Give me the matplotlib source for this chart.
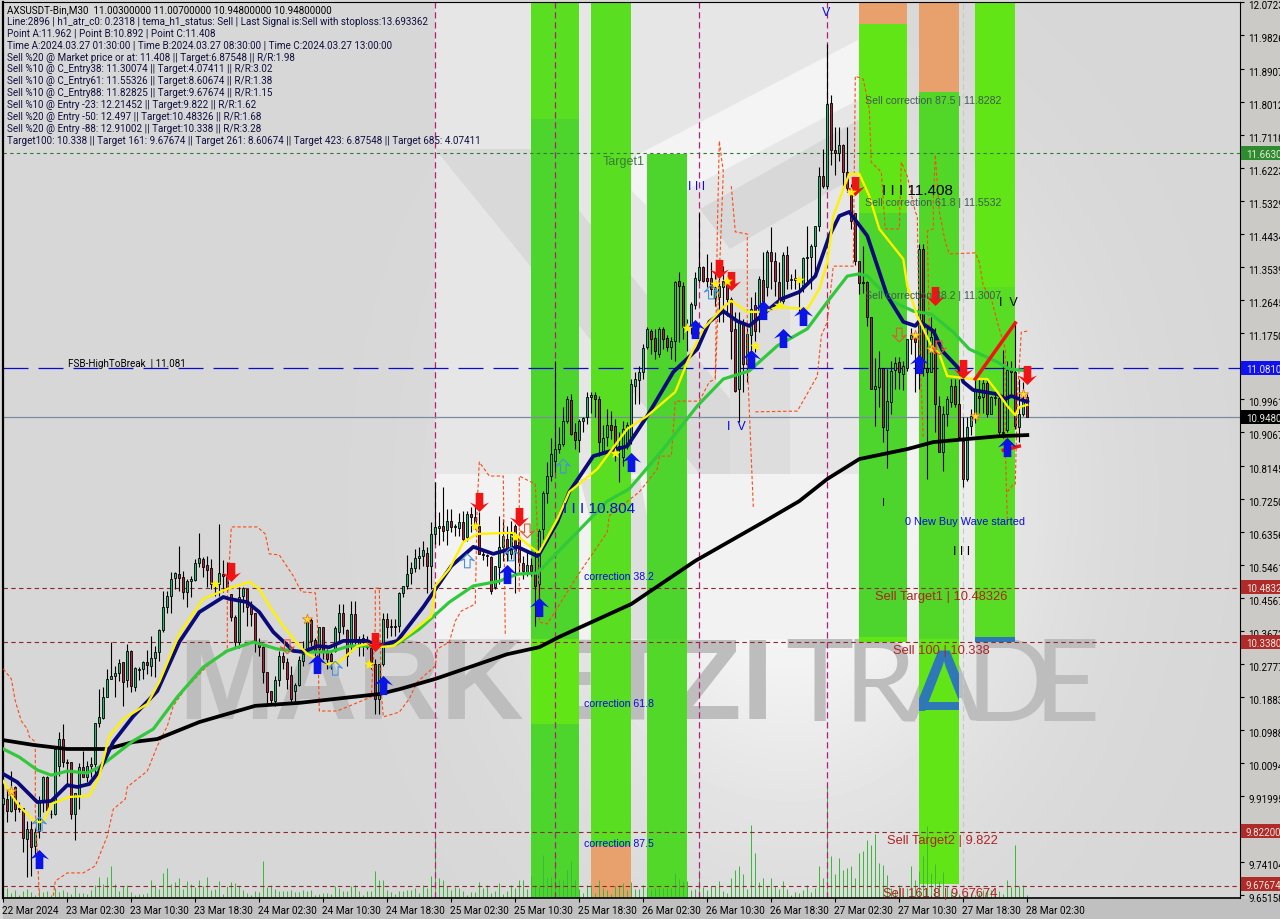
import numpy as np
import matplotlib
matplotlib.use("Agg")
import matplotlib.pyplot as plt
from matplotlib.patches import Rectangle, Polygon
from matplotlib.path import Path
from matplotlib.transforms import ScaledTranslation

# AXSUSDT M30 candles (one value per bar)
opens = [9.899,9.912,9.880,9.944,9.889,9.889,9.805,9.832,9.784,9.826,9.903,9.971,9.871,9.871,10.003,10.075,10.013,10.012,9.871,9.923,
         9.998,9.971,10.002,10.007,10.118,10.131,10.190,10.238,10.245,10.254,10.285,10.236,10.313,10.217,10.263,10.265,10.283,10.274,10.294,10.310,
         10.370,10.432,10.464,10.511,10.522,10.513,10.473,10.504,10.507,10.552,10.563,10.547,10.538,10.495,10.495,10.522,10.513,10.468,10.405,10.337,
         10.462,10.482,10.432,10.416,10.337,10.325,10.257,10.206,10.179,10.236,10.299,10.283,10.248,10.206,10.221,10.287,10.314,10.398,10.343,10.319,
         10.380,10.314,10.305,10.314,10.364,10.416,10.370,10.328,10.414,10.330,10.350,10.340,10.323,10.278,10.183,10.278,10.400,10.378,10.382,10.382,
         10.472,10.489,10.525,10.538,10.567,10.570,10.580,10.545,10.632,10.648,10.652,10.641,10.667,10.651,10.648,10.664,10.622,10.685,10.676,10.653,
         10.575,10.574,10.568,10.486,10.540,10.595,10.617,10.577,10.653,10.622,10.551,10.529,10.547,10.525,10.495,10.644,10.743,10.789,10.830,10.860,
         10.875,10.938,10.994,10.906,10.887,10.936,10.947,11.001,11.008,10.997,10.857,10.893,10.926,10.923,10.870,10.839,10.870,10.893,11.033,11.047,
         11.069,11.137,11.182,11.161,11.119,11.187,11.161,11.137,11.153,11.316,11.302,11.191,11.194,11.252,11.320,11.356,11.326,11.326,11.270,11.273,
         11.300,11.309,11.268,11.187,11.024,11.200,11.092,11.170,11.252,11.236,11.320,11.300,11.394,11.370,11.313,11.263,11.387,11.320,11.326,11.322,
         11.304,11.378,11.383,11.412,11.467,11.600,11.575,11.798,11.673,11.664,11.686,11.611,11.557,11.502,11.371,11.313,11.313,11.218,11.023,11.030,
         11.080,10.913,10.990,11.076,11.096,11.064,11.082,11.160,11.173,11.078,11.403,11.082,11.071,11.164,10.978,10.852,10.956,10.988,11.033,10.983,
         10.884,10.780,10.924,10.956,11.006,11.001,11.040,10.956,11.000,11.000,10.908,10.913,11.075,11.069,10.922,10.956,11.003]
highs = [9.948,9.939,9.989,9.948,9.903,9.889,9.853,9.853,9.835,9.920,9.976,9.976,9.883,10.055,10.093,10.116,10.021,10.012,9.930,10.010,
         10.043,10.016,10.025,10.118,10.211,10.215,10.265,10.337,10.274,10.292,10.285,10.333,10.315,10.269,10.269,10.287,10.317,10.355,10.328,10.373,
         10.477,10.477,10.527,10.527,10.598,10.531,10.509,10.518,10.563,10.634,10.568,10.572,10.563,10.504,10.658,10.559,10.554,10.468,10.410,10.486,
         10.486,10.482,10.450,10.416,10.350,10.328,10.257,10.206,10.247,10.314,10.310,10.296,10.274,10.228,10.301,10.341,10.409,10.402,10.350,10.380,
         10.380,10.319,10.310,10.382,10.441,10.441,10.373,10.450,10.450,10.355,10.360,10.355,10.337,10.292,10.278,10.418,10.418,10.400,10.400,10.474,
         10.491,10.574,10.554,10.590,10.595,10.613,10.595,10.662,10.771,10.690,10.757,10.699,10.699,10.658,10.689,10.694,10.694,10.703,10.703,10.690,
         10.585,10.577,10.570,10.545,10.680,10.671,10.653,10.667,10.658,10.635,10.570,10.581,10.567,10.590,10.644,10.748,10.825,10.890,11.100,10.920,
         10.974,11.006,11.010,10.933,10.943,10.947,11.015,11.015,11.015,11.006,10.925,10.970,10.965,10.943,10.906,10.938,10.934,11.050,11.069,11.087,
         11.146,11.191,11.187,11.187,11.191,11.191,11.170,11.164,11.318,11.340,11.313,11.214,11.259,11.340,11.500,11.358,11.390,11.367,11.340,11.336,
         11.358,11.330,11.272,11.232,11.232,11.214,11.196,11.272,11.286,11.331,11.395,11.400,11.462,11.394,11.367,11.394,11.412,11.336,11.349,11.331,
         11.381,11.467,11.417,11.465,11.625,11.675,11.960,11.821,11.733,11.733,11.688,11.733,11.580,11.502,11.371,11.412,11.316,11.218,11.109,11.128,
         11.082,11.078,11.100,11.110,11.110,11.100,11.160,11.190,11.180,11.417,11.417,11.190,11.218,11.190,11.005,10.978,11.005,11.050,11.050,11.050,
         10.947,10.947,10.970,11.055,11.050,11.050,11.047,11.005,11.015,11.005,11.130,11.100,11.100,11.204,11.050,11.042,11.010]
lows = [9.871,9.851,9.876,9.853,9.876,9.768,9.700,9.703,9.763,9.808,9.876,9.871,9.861,9.869,9.976,9.998,9.948,9.858,9.800,9.885,
        9.971,9.958,9.971,9.980,10.107,10.129,10.188,10.238,10.188,10.233,10.165,10.215,10.202,10.206,10.236,10.238,10.251,10.247,10.242,10.287,
        10.364,10.417,10.418,10.482,10.477,10.455,10.432,10.459,10.504,10.540,10.513,10.486,10.482,10.464,10.464,10.473,10.477,10.396,10.323,10.323,
        10.420,10.382,10.382,10.310,10.300,10.228,10.170,10.170,10.165,10.219,10.265,10.210,10.170,10.174,10.219,10.274,10.310,10.328,10.300,10.292,
        10.292,10.265,10.265,10.310,10.337,10.360,10.274,10.310,10.332,10.300,10.300,10.320,10.265,10.143,10.143,10.274,10.350,10.355,10.355,10.364,
        10.459,10.482,10.495,10.527,10.536,10.545,10.472,10.482,10.604,10.600,10.613,10.601,10.636,10.626,10.626,10.613,10.613,10.635,10.644,10.576,
        10.560,10.545,10.468,10.483,10.495,10.558,10.558,10.563,10.472,10.527,10.510,10.518,10.518,10.382,10.418,10.617,10.716,10.775,10.800,10.850,
        10.870,10.933,10.900,10.861,10.852,10.906,10.929,10.960,10.947,10.843,10.852,10.870,10.888,10.830,10.771,10.816,10.862,10.875,10.983,10.983,
        11.051,11.132,11.119,11.105,11.110,11.132,11.128,11.105,11.100,11.150,11.160,11.128,11.173,11.241,11.315,11.313,11.300,11.280,11.250,11.205,
        11.205,11.223,11.105,11.015,10.934,11.015,11.042,11.087,11.123,11.178,11.232,11.277,11.295,11.277,11.250,11.254,11.295,11.295,11.295,11.232,
        11.286,11.313,11.295,11.331,11.453,11.568,11.566,11.630,11.605,11.643,11.575,11.557,11.458,11.360,11.281,11.285,11.195,11.023,10.924,10.974,
        10.879,10.811,10.956,11.024,11.024,11.020,11.073,11.120,11.015,11.024,11.060,10.780,11.069,10.906,10.852,10.802,10.924,10.974,10.974,10.888,
        10.757,10.775,10.900,10.933,10.960,10.960,10.947,10.956,10.980,10.897,10.890,10.906,11.005,10.915,10.879,10.952,10.948]
closes = [9.914,9.880,9.935,9.885,9.885,9.808,9.831,9.781,9.824,9.903,9.971,9.883,9.873,10.048,10.075,10.013,10.011,9.871,9.930,9.998,
          9.971,10.003,10.006,10.118,10.134,10.188,10.238,10.245,10.254,10.281,10.229,10.313,10.220,10.267,10.265,10.283,10.277,10.294,10.310,10.370,
          10.432,10.462,10.509,10.524,10.512,10.473,10.504,10.509,10.552,10.565,10.542,10.534,10.495,10.491,10.525,10.516,10.482,10.405,10.337,10.459,
          10.484,10.432,10.414,10.337,10.325,10.256,10.203,10.181,10.235,10.301,10.283,10.239,10.183,10.221,10.289,10.305,10.398,10.341,10.313,10.380,
          10.314,10.292,10.287,10.375,10.416,10.382,10.301,10.414,10.341,10.346,10.337,10.325,10.278,10.183,10.278,10.400,10.378,10.382,10.380,10.472,
          10.489,10.522,10.538,10.567,10.572,10.587,10.545,10.632,10.649,10.652,10.640,10.667,10.651,10.653,10.662,10.617,10.685,10.676,10.649,10.576,
          10.574,10.570,10.477,10.543,10.595,10.626,10.577,10.631,10.586,10.554,10.531,10.547,10.531,10.490,10.640,10.743,10.788,10.848,10.861,10.875,
          10.936,10.997,10.902,10.887,10.938,10.945,11.001,11.008,10.997,10.879,10.890,10.925,10.914,10.866,10.861,10.915,10.925,11.037,11.051,11.069,
          11.134,11.187,11.160,11.126,11.187,11.160,11.139,11.155,11.313,11.304,11.191,11.190,11.254,11.324,11.354,11.318,11.318,11.295,11.300,11.304,
          11.318,11.268,11.182,11.019,11.205,11.092,11.173,11.241,11.182,11.322,11.250,11.394,11.370,11.317,11.259,11.388,11.317,11.322,11.320,11.313,
          11.378,11.381,11.412,11.465,11.600,11.573,11.797,11.673,11.664,11.686,11.611,11.570,11.480,11.371,11.311,11.310,11.218,11.023,11.032,11.080,
          10.920,10.992,11.073,11.094,11.070,11.087,11.160,11.170,11.150,11.403,11.082,11.069,11.164,10.983,10.852,10.956,10.997,11.033,10.983,10.893,
          10.780,10.920,10.951,11.019,11.000,11.040,10.956,11.001,11.003,10.906,10.905,11.075,11.070,10.924,10.956,10.997,10.948]
volumes = [28,30,15,25,10,22,28,18,8,25,18,22,8,30,18,25,18,12,32,15,15,12,25,40,63,42,63,96,42,22,35,38,18,10,12,12,15,55,38,28,
           75,90,42,48,60,28,52,42,32,55,35,63,25,28,52,12,35,48,45,35,25,15,10,22,18,110,32,38,28,20,20,22,25,18,18,25,22,25,10,12,
           15,15,12,35,30,20,22,35,38,20,8,20,22,80,55,55,25,18,12,20,22,25,25,30,15,38,30,65,197,60,55,35,25,32,30,22,8,18,18,48,
           30,40,15,20,45,12,22,40,30,55,55,28,65,40,35,130,60,63,135,55,55,85,110,55,28,15,40,40,15,55,30,25,12,35,40,45,25,48,28,28,
           40,30,25,30,30,30,30,30,75,58,50,50,25,28,85,32,25,35,35,52,22,15,60,85,97,72,28,218,135,48,60,35,60,35,28,52,28,10,18,15,
           25,38,18,30,95,60,337,125,72,120,85,90,95,60,135,140,175,160,192,105,98,70,30,25,40,10,30,95,55,82,125,215,75,102,50,78,35,20,15,12,
           12,10,15,10,15,25,25,25,8,20,12,55,32,158,35,38,10]

# Moving averages: bar index and price at the bends
navy_bar = [0,3.5,8.5,12,16,18.5,21.5,24,27.5,32.5,38.5,44,49,55,56.5,61,64,67.5,72.5,75,78.5,81.5,85,91,93.5,98.5,105,112,117.5,122.5,128.5,133.5,134,138.5,141.5,147.5,156,161,167.5,173.5,176.5,180,183.5,186.5,190,194.5,199,203,206.5,209,211.5,216,221,225,228,229,232.5,235,239,240,242.5,248.5,250.5,252,256]
navy_px = [9.980,9.958,9.904,9.907,9.950,9.945,9.953,9.988,10.067,10.137,10.205,10.338,10.419,10.460,10.455,10.446,10.419,10.365,10.314,10.311,10.327,10.324,10.341,10.341,10.327,10.341,10.433,10.544,10.596,10.577,10.596,10.571,10.577,10.663,10.745,10.842,10.869,10.951,11.070,11.132,11.206,11.235,11.208,11.195,11.227,11.268,11.287,11.330,11.439,11.493,11.504,11.439,11.276,11.206,11.195,11.208,11.181,11.124,11.078,11.043,11.021,11.010,10.997,11.005,10.989]
yellow_bar = [0,1.5,4,8,10,12,16.5,21.5,24,26.5,30,36,39,44,50,56,61.5,64,66.5,70,73.5,76,81,84,88.5,91,93,97.5,101.5,107,108,111.5,115,118.5,127.5,133.5,134,138.5,141.5,148.5,156,161,168,171,175,180,182,186,190,193.5,201,204,206,207.5,210,211.5,214,216.5,219,225,226,228.5,232,234,236,242.5,246,248.5,251,253,254,256]
yellow_px = [9.961,9.931,9.893,9.850,9.850,9.899,9.918,9.921,9.975,10.083,10.129,10.170,10.230,10.360,10.455,10.482,10.501,10.482,10.436,10.381,10.333,10.306,10.278,10.284,10.327,10.333,10.324,10.327,10.360,10.408,10.490,10.536,10.609,10.631,10.634,10.582,10.582,10.671,10.745,10.807,10.916,10.951,11.016,11.097,11.187,11.246,11.263,11.233,11.233,11.246,11.241,11.295,11.368,11.493,11.566,11.607,11.607,11.547,11.458,11.376,11.303,11.222,11.141,11.119,11.059,11.051,11.051,11.016,10.978,10.953,10.975,10.981]
green_bar = [0,4,8.5,12,16,21,24,32.5,37.5,43.5,50,56,62.5,68.5,75,81.5,86.5,92.5,98.5,104,111.5,117.5,124,128.5,133.5,143.5,151,156.5,165,173.5,180,186.5,193.5,201,206,211,214,216,222.5,227.5,232,237.5,241.5,248.5,251.5,256]
green_px = [10.048,10.026,9.991,9.977,9.988,9.983,9.999,10.070,10.102,10.189,10.270,10.314,10.338,10.319,10.311,10.311,10.327,10.327,10.333,10.373,10.446,10.490,10.503,10.522,10.525,10.636,10.720,10.753,10.861,10.978,11.051,11.073,11.141,11.187,11.260,11.330,11.336,11.330,11.260,11.235,11.227,11.178,11.132,11.097,11.078,11.073]
black_bar = [0,7.5,16,26,32.5,38.5,49,63,74,94,99,108,126,134,139,157,173,190,199,206,214,226,232.5,249,256]
black_px = [10.072,10.059,10.048,10.048,10.067,10.075,10.121,10.165,10.173,10.197,10.210,10.238,10.305,10.324,10.352,10.441,10.558,10.663,10.720,10.780,10.834,10.861,10.880,10.896,10.899]

# Thin dashed channel pieces, (bars, prices)
channel = [
    ([0,2,3,4.5,6,6.5,8,8,9],
     [10.265,10.238,10.178,10.124,10.102,10.081,10.067,9.885,9.650]),
    ([12.5,13,16,20,23,26,27.5,30.5,31,36,38.5,41,42.5,45.5,51,56,56,57,63.5,65.5,66.5,69,72.5,74.5,78,78.5,79,83.5,89.5,92,93,93,94,94.5,95,99,101.5,103.5,108,108.5,111.5,113,114.5,118,118.5,119,121.5,125,125.5],
     [9.650,9.690,9.712,9.712,9.731,9.812,9.885,9.912,9.945,9.988,10.056,10.110,10.165,10.211,10.273,10.319,10.455,10.650,10.650,10.631,10.577,10.574,10.517,10.474,10.471,10.400,10.151,10.151,10.178,10.189,10.381,10.484,10.484,10.202,10.135,10.148,10.184,10.230,10.273,10.319,10.338,10.395,10.422,10.441,10.718,10.826,10.788,10.788,10.354]),
    ([129,129,133,133.5,134,136,143.5,151,151.5,159,163.5,164,167,168,174,176.5,178,178.5,179,180,178],
     [10.474,10.788,10.766,10.644,10.392,10.387,10.517,10.636,10.680,10.745,10.807,10.842,10.842,10.991,10.991,11.043,11.051,11.450,11.696,11.612,11.051]),
    ([182,183,186,186,187.5],
     [11.574,11.450,11.444,11.097,10.704]),
    ([188,198.5,203.5,204.5,206,207.5,212.5,213,215,216.5,217,219.5,220.5,224,224.5,226,228,228.5,229,230],
     [10.962,10.964,11.059,11.168,11.206,11.357,11.357,11.872,11.864,11.783,11.639,11.612,11.458,11.458,11.639,11.601,11.504,11.493,11.160,10.888]),
    ([233,232.5,232.5,231,231.5],
     [11.656,11.539,11.458,11.452,11.179]),
    ([233,234,235.5,236.5,243,244,245,247,248.5,250.5,250.5,251],
     [11.656,11.504,11.423,11.390,11.393,11.368,11.303,11.268,11.206,11.132,10.861,10.672]),
    ([251,252.5,253,253.5,254.5,256],
     [10.745,10.766,10.766,10.997,11.178,11.181]),
]

# Signal markers
sell_bar = [57,119,129,93,179,182,213,233,240,256]
sell_px = [10.528,10.718,10.677,10.338,11.349,11.317,11.574,11.276,11.078,11.062]
buy_bar = [9,78.5,95,126,134,157,173,187,190,195,200,229,251]
buy_px = [9.750,10.278,10.222,10.522,10.433,10.826,11.187,11.105,11.238,11.162,11.222,11.092,10.867]
star_bar = [53,118,128,91.5,153,171,178,181,188,194,199,212]
star_px = [10.495,10.653,10.623,10.278,10.850,11.189,11.308,11.317,11.141,11.252,11.320,11.558]
cross_bar = [2,76,228,232,243,255]
cross_px = [9.934,10.400,11.170,11.132,10.951,11.010]
hollow_up_bar = [9,83,116,127,140,177]
hollow_up_px = [9.845,10.267,10.558,10.577,10.815,11.287]
hollow_dn_bar = [71,131,224,234]
hollow_dn_px = [10.325,10.639,11.170,11.135]

# Shaded zones: first bar, last bar, top price, bottom price, colour
BRIGHT = "#61E516"
MID = "#4DD42D"
TOP_GREEN = "#59DE22"
ORANGE = "#E8A06C"
zones = [
    (132,144,12.08,11.755,TOP_GREEN),(132,144,11.755,10.346,MID),(132,144,10.346,10.115,BRIGHT),(132,144,10.115,9.644,MID),
    (147,157,12.08,9.785,TOP_GREEN),(147,157,9.785,9.644,ORANGE),
    (161,171,11.66,10.346,MID),(161,171,10.346,9.644,"#52D828"),
    (214,226,12.08,12.013,ORANGE),(214,226,12.013,11.50,BRIGHT),(214,226,11.50,10.352,MID),(214,226,10.352,10.338,BRIGHT),
    (229,239,12.08,11.829,ORANGE),(229,239,11.829,10.346,"#52D728"),(229,239,10.346,9.682,BRIGHT),
    (243,253,12.08,11.30,BRIGHT),(243,253,11.30,10.352,"#58DC24"),(243,253,10.352,10.338,"#2F78B8"),
]

# Levels
fib_levels = [10.48326,10.338,9.822,9.67674]
magenta_bars = [108,138,174,206]
tick_bars = list(range(0,257,16))
tick_labels = ["22 Mar 2024","23 Mar 02:30","23 Mar 10:30","23 Mar 18:30","24 Mar 02:30","24 Mar 10:30","24 Mar 18:30",
               "25 Mar 02:30","25 Mar 10:30","25 Mar 18:30","26 Mar 02:30","26 Mar 10:30","26 Mar 18:30",
               "27 Mar 02:30","27 Mar 10:30","27 Mar 18:30","28 Mar 02:30"]
price_ticks = [12.0723,11.9826,11.8907,11.8012,11.7118,11.6223,11.5329,11.4434,11.3539,11.2645,11.175,10.9961,10.9067,10.8145,
               10.725,10.6356,10.5461,10.4567,10.3672,10.2777,10.1883,10.0988,10.0094,9.91995,9.74104,9.65158]

info_lines = [
    "AXSUSDT-Bin,M30  11.00300000 11.00700000 10.94800000 10.94800000",
    "Line:2896 | h1_atr_c0: 0.2318 | tema_h1_status: Sell | Last Signal is:Sell with stoploss:13.693362",
    "Point A:11.962 | Point B:10.892 | Point C:11.408",
    "Time A:2024.03.27 01:30:00 | Time B:2024.03.27 08:30:00 | Time C:2024.03.27 13:00:00",
    "Sell %20 @ Market price or at: 11.408 || Target:6.87548 || R/R:1.98",
    "Sell %10 @ C_Entry38: 11.30074 || Target:4.07411 || R/R:3.02",
    "Sell %10 @ C_Entry61: 11.55326 || Target:8.60674 || R/R:1.38",
    "Sell %10 @ C_Entry88: 11.82825 || Target:9.67674 || R/R:1.15",
    "Sell %10 @ Entry -23: 12.21452 || Target:9.822 || R/R:1.62",
    "Sell %20 @ Entry -50: 12.497 || Target:10.48326 || R/R:1.68",
    "Sell %20 @ Entry -88: 12.91002 || Target:10.338 || R/R:3.28",
    "Target100: 10.338 || Target 161: 9.67674 || Target 261: 8.60674 || Target 423: 6.87548 || Target 685: 4.07411",
]

W, H = 1280, 920
LEFT, RIGHT, TOP, BOTTOM = 3, 1240, 3, 899
FONT = "Roboto"
WIDE = "Liberation Sans"

fig = plt.figure(figsize=(W / 100, H / 100), dpi=100, facecolor="#C4C4C4")

# background sheet in screen pixels
bg = fig.add_axes([0, 0, 1, 1], zorder=0)
bg.set_xlim(0, W)
bg.set_ylim(H, 0)
bg.axis("off")
yy, xx = np.mgrid[0:H, 0:W]
shade = 0.84 + 0.15 * np.exp(-(((xx - 790) / 230.0) ** 2 + ((yy - 500) / 300.0) ** 2))
bg.imshow(shade, extent=(0, W, H, 0), cmap="gray", vmin=0, vmax=1, aspect="auto", zorder=0)
logo = [
    ([(435, 3), (860, 3), (860, 475), (435, 475)], "#E6E6E6"),
    ([(435, 475), (860, 475), (860, 640), (435, 640)], "#F2F2F2"),
    ([(435, 150), (530, 150), (730, 400), (730, 475), (700, 475)], "#D9D9D9"),
    ([(730, 270), (790, 270), (790, 475), (730, 475)], "#DDDDDD"),
    ([(610, 170), (860, 40), (860, 100), (650, 210)], "#F4F4F4"),
    ([(700, 210), (860, 120), (860, 175), (730, 250)], "#D8D8D8"),
    ([(580, 480), (640, 480), (670, 640), (620, 640)], "#DEDEDE"),
]
for pts, col in logo:
    bg.add_patch(Polygon(pts, closed=True, facecolor=col, edgecolor="none", zorder=1))
bg.add_patch(Rectangle((LEFT, 900), W, 20, facecolor="#C0C0C0", edgecolor="none", zorder=2))
bg.add_patch(Rectangle((RIGHT, 0), 40, 900, facecolor="#CBCAC7", edgecolor="none", zorder=2))
bg.text(178, 689, "MARKETZI", family=WIDE, fontweight="bold", fontsize=83, color="#BDBDBD", va="center", ha="left", zorder=3)
# letters of TRADE overlap in the logo, so each sits on its own
for letter, lx in [("T", 785), ("R", 843), ("D", 965), ("E", 1033)]:
    bg.text(lx, 689, letter, family="Lato", fontsize=83, color="#BDBDBD", va="center", ha="left", zorder=3)
bg.text(943, 689, "A", family="Lato", fontsize=83, color="#BDBDBD", va="center", ha="center", zorder=3)

pos = [LEFT / W, 1 - BOTTOM / H, (RIGHT - LEFT) / W, (BOTTOM - TOP) / H]
xlim = ((LEFT - 3.3) / 4, (RIGHT - 3.3) / 4)
ylim = (12.0812 - 0.002711 * BOTTOM, 12.0812 - 0.002711 * TOP)

# zones go lowest, then volume, then price
zone_ax = fig.add_axes(pos, zorder=1)
zone_ax.set_xlim(xlim)
zone_ax.set_ylim(ylim)
zone_ax.axis("off")
for b0, b1, top, bot, col in zones:
    zone_ax.add_patch(Rectangle((b0, bot), b1 - b0, top - bot, facecolor=col, edgecolor="none"))
# only the top of the logo A shows through the zone, in blue
blue_a = zone_ax.text(235, 10.182, "A", family="Lato", fontsize=83, color="#2F78B8", ha="center", va="center")
blue_a.set_clip_path(Rectangle((229, 10.151), 10, 0.3, transform=zone_ax.transData))
blue_a.set_clip_on(True)

vol_ax = fig.add_axes(pos, zorder=2)
vol_ax.set_xlim(xlim)
vol_ax.set_ylim(0, (BOTTOM - TOP) * 3)
vol_ax.axis("off")
vol_ax.vlines(range(len(volumes)), 0, volumes, color="#3CB83C", lw=0.72)

ax = fig.add_axes(pos, zorder=3)
ax.patch.set_alpha(0)
ax.set_xlim(xlim)
ax.set_ylim(ylim)

# level lines
for bar in magenta_bars:
    ax.axvline(bar, color="#B0207A", lw=0.9, ls=(0, (5, 3)), zorder=1)
ax.axvline(240, color="#C8C8C8", lw=0.8, ls=(0, (5, 3)), zorder=1)
ax.axhline(11.663, color="#2E7D32", lw=0.8, ls=(0, (3, 3)), zorder=1)
ax.axhline(11.081, color="#0A0AD0", lw=0.9, ls=(0, (20, 8)), zorder=1)
ax.axhline(10.948, color="#7A8CA0", lw=0.9, zorder=1)
for lev in fib_levels:
    ax.axhline(lev, color="#8E2A2A", lw=0.8, ls=(0, (4, 3)), zorder=1)

# candles
o = np.array(opens)
c = np.array(closes)
bars = np.arange(len(o))
up = c >= o
ax.vlines(bars, lows, highs, color="black", lw=0.8, zorder=2)
body_bottom = np.minimum(o, c)
body_height = np.maximum(np.abs(c - o), 0.002)
ax.bar(bars[up], body_height[up], bottom=body_bottom[up], width=0.55, color="#2EB872", edgecolor="black", lw=0.6, zorder=3)
ax.bar(bars[~up], body_height[~up], bottom=body_bottom[~up], width=0.55, color="#A8283F", edgecolor="black", lw=0.6, zorder=3)

# averages and channel
for xs, ys in channel:
    ax.plot(xs, ys, color="#FF4A12", lw=0.8, ls=(0, (3, 2)), zorder=4)
ax.plot(black_bar, black_px, color="black", lw=2.7, zorder=5)
ax.plot(green_bar, green_px, color="#32C83C", lw=2.3, zorder=5)
ax.plot(navy_bar, navy_px, color="#0A0A78", lw=2.7, zorder=6)
ax.plot(yellow_bar, yellow_px, color="#FFF200", lw=1.7, zorder=7)
ax.plot([243, 253], [11.051, 11.203], color="#F01414", lw=2.5, zorder=8)
ax.plot([250, 254], [10.858, 10.869], color="#F01414", lw=2.5, zorder=8)

# arrows, wide chevron head on a short shaft
arrow_up = Path([(0, 1), (1, 0), (0.4, 0.25), (0.4, -1), (-0.4, -1), (-0.4, 0.25), (-1, 0), (0, 1)])
arrow_dn = Path([(0, -1), (1, 0), (0.4, -0.25), (0.4, 1), (-0.4, 1), (-0.4, -0.25), (-1, 0), (0, -1)])
ax.scatter(sell_bar, sell_px, marker=arrow_dn, s=190, color="#F01414", lw=0, zorder=9)
ax.scatter(buy_bar, buy_px, marker=arrow_up, s=190, color="#0A14E6", lw=0, zorder=9)
ax.scatter(star_bar, star_px, marker="*", s=70, color="#FFF200", lw=0, zorder=9)
ax.scatter(cross_bar, cross_px, marker="*", s=60, color="#FFE030", edgecolor="#E07020", lw=0.5, zorder=9)
ax.scatter(hollow_up_bar, hollow_up_px, marker=arrow_up, s=100, facecolor="none", edgecolor="#4A90D9", lw=0.8, zorder=9)
ax.scatter(hollow_dn_bar, hollow_dn_px, marker=arrow_dn, s=100, facecolor="none", edgecolor="#E05A30", lw=0.8, zorder=9)

# axes
for side in ["top", "right"]:
    ax.spines[side].set_linewidth(0.8)
ax.spines["left"].set_linewidth(1.6)
ax.spines["bottom"].set_linewidth(1.2)
ax.yaxis.tick_right()
ax.set_yticks(price_ticks)
ax.set_yticklabels([f"{v:.5f}" for v in price_ticks], family=FONT, fontsize=7, color="black")
ax.tick_params(axis="y", length=3, width=0.8, pad=3)
ax.set_xticks(tick_bars)
ax.set_xticklabels(tick_labels, family=FONT, fontsize=7.2, color="black", ha="left")
ax.tick_params(axis="x", length=3, width=0.8, pad=2)
for lab in ax.get_yticklabels():
    lab.set_transform(lab.get_transform() + ScaledTranslation(0, -2 / 100, fig.dpi_scale_trans))
for lab in ax.get_xticklabels():
    lab.set_transform(lab.get_transform() + ScaledTranslation(-1 / 100, 0, fig.dpi_scale_trans))

# price tags on the right edge
tags = [(154, "11.66300", "#2E8B2E"), (369, "11.08100", "#1010F0"), (418, "10.94800", "black"),
        (588, "10.48326", "#B02A2A"), (643, "10.33800", "#B02A2A"), (832, "9.82200", "#B02A2A"), (885, "9.67674", "#B02A2A")]


def put(x, y, s, color="black", size=7.1, family=FONT):
    fig.text(x / W, 1 - y / H, s, color=color, fontsize=size, family=family, va="center", ha="left", zorder=10)


for y, s, col in tags:
    fig.add_artist(Rectangle((1241 / W, 1 - (y + 7) / H), 39 / W, 14 / H, transform=fig.transFigure, facecolor=col, edgecolor="none", zorder=9))
    put(1246, y + 1, s, color="#E8E8DC", size=7)

for i, line in enumerate(info_lines):
    put(7, 10 + 11.9 * i, line, color="#101040" if i else "black")

BLUE = "#0A0AE6"
BROWN = "#B22222"
TAG = "#3C5C50"
put(68, 364, "FSB-HighToBreak  | 11.081")
put(603, 162, "Target1", color="#3A7A3A", size=9, family=WIDE)
put(688, 187, "I I I", color=BLUE, size=9, family=WIDE)
put(563, 509, "I I I 10.804", color=BLUE, size=11, family=WIDE)
put(584, 577, "correction 38.2", color=BLUE, size=7.6, family=WIDE)
put(584, 704, "correction 61.8", color=BLUE, size=7.6, family=WIDE)
put(584, 844, "correction 87.5", color=BLUE, size=7.6, family=WIDE)
put(727, 427, "I  V", color=BLUE, size=9, family=WIDE)
put(822, 13, "V", color=BLUE, size=9, family=WIDE)
put(865, 101, "Sell correction 87.5 | 11.8282", color=TAG, size=7.6, family=WIDE)
put(865, 203, "Sell correction 61.8 | 11.5532", color=TAG, size=7.6, family=WIDE)
put(865, 296, "Sell correction 38.2 | 11.3007", color=TAG, size=7.6, family=WIDE)
put(882, 191, "I I I 11.408", size=11, family=WIDE)
put(882, 503, "I", size=8, family=WIDE)
put(953, 552, "I I I", size=9, family=WIDE)
put(999, 303, "I  V", size=9, family=WIDE)
put(905, 522, "0 New Buy Wave started", color=BLUE, size=7.8, family=WIDE)
put(875, 597, "Sell Target1 | 10.48326", color=BROWN, size=9.3, family=WIDE)
put(893, 651, "Sell 100 | 10.338", color=BROWN, size=9.3, family=WIDE)
put(887, 841, "Sell Target2 | 9.822", color=BROWN, size=9.3, family=WIDE)
put(883, 894, "Sell 161.8 | 9.67674", color=BROWN, size=9.3, family=WIDE)

fig.savefig("out.png", dpi=100)
